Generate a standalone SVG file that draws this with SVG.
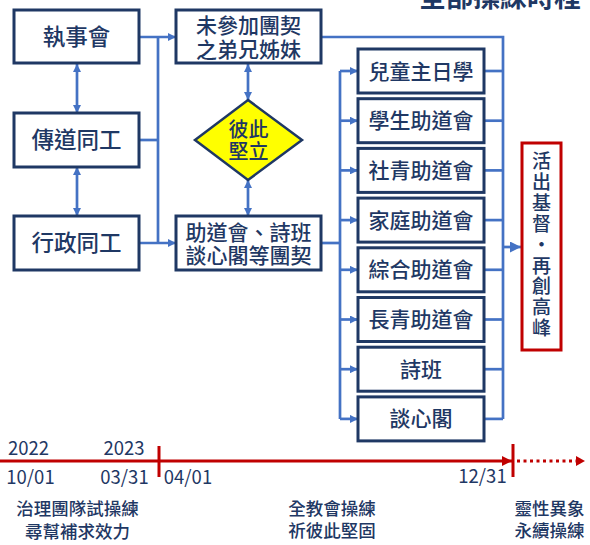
<svg xmlns="http://www.w3.org/2000/svg" width="590" height="545" viewBox="0 0 590 545">
<defs>
<style>
.box{fill:#fff;stroke:#1F3864;stroke-width:3}
.t{font-family:"Noto Sans CJK TC","Noto Sans CJK SC",sans-serif;fill:#1F3864;text-anchor:middle}
.b{font-weight:500}
.c{fill:none;stroke:#4472C4;stroke-width:2.7}
.r{fill:none;stroke:#C00000;stroke-width:3}
</style>
<marker id="a" viewBox="0 0 10 10" refX="10" refY="5" markerUnits="userSpaceOnUse" markerWidth="8" markerHeight="8" orient="auto-start-reverse"><path d="M0,0 L10,5 L0,10 z" fill="#4472C4"/></marker>
<marker id="ab" viewBox="0 0 10 10" refX="10" refY="5" markerUnits="userSpaceOnUse" markerWidth="11" markerHeight="11" orient="auto"><path d="M0,0 L10,5 L0,10 z" fill="#4472C4"/></marker>
<marker id="ar" viewBox="0 0 10 10" refX="10" refY="5" markerUnits="userSpaceOnUse" markerWidth="10" markerHeight="10" orient="auto"><path d="M0,0 L10,5 L0,10 z" fill="#C00000"/></marker>
</defs>
<rect width="590" height="545" fill="#fff"/>

<text class="t" font-weight="bold" x="500" y="7" font-size="27">全部操練時程</text>

<g id="connectors">
<path class="c" d="M139,37 H176" marker-end="url(#a)"/>
<path class="c" d="M158,37 V243"/>
<path class="c" d="M139,140 H158"/>
<path class="c" d="M139,243 H176" marker-end="url(#a)"/>
<path class="c" d="M77,64 V113" marker-start="url(#a)" marker-end="url(#a)"/>
<path class="c" d="M77,167 V216" marker-start="url(#a)" marker-end="url(#a)"/>
<path class="c" d="M248,64 V100" marker-start="url(#a)" marker-end="url(#a)"/>
<path class="c" d="M248,180 V216" marker-start="url(#a)" marker-end="url(#a)"/>
<path class="c" d="M321,37 H503 V419"/>
<path class="c" d="M321,243 H340"/>
<path class="c" d="M340,71 V419"/>
<path class="c" d="M340,71 H358" marker-end="url(#a)"/>
<path class="c" d="M340,120.7 H358" marker-end="url(#a)"/>
<path class="c" d="M340,170.4 H358" marker-end="url(#a)"/>
<path class="c" d="M340,220.1 H358" marker-end="url(#a)"/>
<path class="c" d="M340,269.8 H358" marker-end="url(#a)"/>
<path class="c" d="M340,319.5 H358" marker-end="url(#a)"/>
<path class="c" d="M340,369.2 H358" marker-end="url(#a)"/>
<path class="c" d="M340,418.9 H358" marker-end="url(#a)"/>
<path class="c" d="M484,71 H503"/>
<path class="c" d="M484,120.7 H503"/>
<path class="c" d="M484,170.4 H503"/>
<path class="c" d="M484,220.1 H503"/>
<path class="c" d="M484,269.8 H503"/>
<path class="c" d="M484,319.5 H503"/>
<path class="c" d="M484,369.2 H503"/>
<path class="c" d="M484,418.9 H503"/>
<path class="c" d="M503,247 H521" marker-end="url(#ab)"/>
</g>

<g id="n-zhishihui"><rect class="box" x="14" y="10" width="125" height="53"/><text class="t b" x="76.5" y="44.5" font-size="22.5">執事會</text></g>
<g id="n-chuandao"><rect class="box" x="14" y="113" width="125" height="54"/><text class="t b" x="76.5" y="148" font-size="22.5">傳道同工</text></g>
<g id="n-xingzheng"><rect class="box" x="14" y="216" width="125" height="54"/><text class="t b" x="76.5" y="251" font-size="22.5">行政同工</text></g>

<g id="n-weicanjia"><rect class="box" x="176" y="10" width="145" height="53"/><text class="t b" font-size="21"><tspan x="248.5" y="33">未參加團契</tspan><tspan x="248.5" y="57">之弟兄姊妹</tspan></text></g>
<g id="n-bici"><polygon points="248,100 302,140 248,180 195,140" fill="#FFFF00" stroke="#1F3864" stroke-width="2.5"/><text class="t b" font-size="20"><tspan x="248.5" y="137">彼此</tspan><tspan x="248.5" y="159">堅立</tspan></text></g>
<g id="n-zhudao"><rect class="box" x="176" y="216" width="145" height="54"/><text class="t b" font-size="21"><tspan x="248.5" y="239.5">助道會、詩班</tspan><tspan x="248.5" y="263">談心閣等團契</tspan></text></g>

<g id="n-r1"><rect class="box" x="358" y="49" width="126" height="44"/><text class="t b" x="421" y="78.5" font-size="21">兒童主日學</text></g>
<g id="n-r2"><rect class="box" x="358" y="98.7" width="126" height="44"/><text class="t b" x="421" y="128.2" font-size="21">學生助道會</text></g>
<g id="n-r3"><rect class="box" x="358" y="148.4" width="126" height="44"/><text class="t b" x="421" y="177.9" font-size="21">社青助道會</text></g>
<g id="n-r4"><rect class="box" x="358" y="198.1" width="126" height="44"/><text class="t b" x="421" y="227.6" font-size="21">家庭助道會</text></g>
<g id="n-r5"><rect class="box" x="358" y="247.8" width="126" height="44"/><text class="t b" x="421" y="277.3" font-size="21">綜合助道會</text></g>
<g id="n-r6"><rect class="box" x="358" y="297.5" width="126" height="44"/><text class="t b" x="421" y="327" font-size="21">長青助道會</text></g>
<g id="n-r7"><rect class="box" x="358" y="347.2" width="126" height="44"/><text class="t b" x="421" y="376.7" font-size="21">詩班</text></g>
<g id="n-r8"><rect class="box" x="358" y="396.9" width="126" height="44"/><text class="t b" x="421" y="426.4" font-size="21">談心閣</text></g>

<g id="n-goal"><rect x="522" y="143" width="39" height="207" fill="#fff" stroke="#C00000" stroke-width="3"/><text class="t b" font-size="19"><tspan x="541.5" y="168">活</tspan><tspan x="541.5" dy="20.9">出</tspan><tspan x="541.5" dy="20.9">基</tspan><tspan x="541.5" dy="20.9">督</tspan><tspan x="541.5" dy="20.9">・</tspan><tspan x="541.5" dy="20.9">再</tspan><tspan x="541.5" dy="20.9">創</tspan><tspan x="541.5" dy="20.9">高</tspan><tspan x="541.5" dy="20.9">峰</tspan></text></g>

<g id="timeline">
<path class="r" d="M0,461 H512" marker-end="url(#ar)"/>
<path class="r" d="M159,446 V477"/>
<path class="r" d="M513,444 V477"/>
<path class="r" d="M517,461 H577" stroke-dasharray="3,3.5"/>
<path d="M576,456 L585,461 L576,466 z" fill="#C00000"/>
<text class="t" x="28.5" y="455" font-size="18.5">2022</text>
<text class="t" x="124" y="455" font-size="18.5">2023</text>
<text class="t" x="30.5" y="484" font-size="18.5">10/01</text>
<text class="t" x="124.5" y="484" font-size="18.5">03/31</text>
<text class="t" x="188" y="484" font-size="18.5">04/01</text>
<text class="t" x="482.5" y="483" font-size="18.5">12/31</text>
<text class="t b" font-size="17.5"><tspan x="77.5" y="515">治理團隊試操練</tspan><tspan x="77.5" y="538">尋幫補求效力</tspan></text>
<text class="t b" font-size="17.5"><tspan x="332" y="515">全教會操練</tspan><tspan x="332" y="537">祈彼此堅固</tspan></text>
<text class="t b" font-size="17.5"><tspan x="549.5" y="515">靈性異象</tspan><tspan x="549.5" y="537">永續操練</tspan></text>
</g>
</svg>
